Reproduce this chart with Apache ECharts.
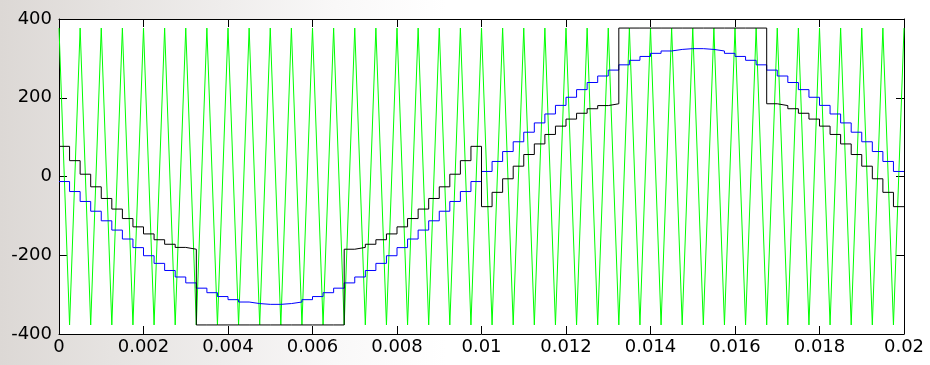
<!DOCTYPE html>
<html>
<head>
<meta charset="utf-8">
<script src="https://cdn.jsdelivr.net/npm/echarts@6/dist/echarts.min.js"></script>
<style>
  html, body { margin: 0; padding: 0; }
  body {
    width: 930px; height: 365px; overflow: hidden;
    background: linear-gradient(to right, #dcd8d5 0%, #e6e3e1 12%, #efedec 24%, #f9f8f8 36%, #ffffff 48%);
  }
  #chart { width: 930px; height: 365px; }
</style>
</head>
<body>
<div id="chart"></div>
<script>
// sampling interval of the staircase signals (s)
const STEP = 0.00025;

// blue staircase (sampled reference), one value per step
const blueSteps = [
  -12.8, -38.2, -63.4, -88.2, -112.5, -136.1, -158.8, -180.6, -201.2, -220.6,
  -238.7, -255.2, -270.2, -283.6, -295.1, -304.9, -312.8, -318.8, -322.7, -324.7,
  -324.7, -322.7, -318.8, -312.8, -304.9, -295.1, -283.6, -270.2, -255.2, -238.7,
  -220.6, -201.2, -180.6, -158.8, -136.1, -112.5, -88.2, -63.4, -38.2, -12.8,
  12.8, 38.2, 63.4, 88.2, 112.5, 136.1, 158.8, 180.6, 201.2, 220.6,
  238.7, 255.2, 270.2, 283.6, 295.1, 304.9, 312.8, 318.8, 322.7, 324.7,
  324.7, 322.7, 318.8, 312.8, 304.9, 295.1, 283.6, 270.2, 255.2, 238.7,
  220.6, 201.2, 180.6, 158.8, 136.1, 112.5, 88.2, 63.4, 38.2, 12.8
];

// black staircase (clamped modulating wave), one value per step
const blackSteps = [
  76.6, 40.2, 5.8, -26.2, -55.8, -82.7, -106.8, -127.9, -145.8, -160.6,
  -172.1, -180.1, -184.7,
  -377, -377, -377, -377, -377, -377, -377, -377, -377, -377, -377, -377, -377, -377,
  -184.7, -180.1, -172.1, -160.6, -145.8, -127.9, -106.8, -82.7, -55.8, -26.2,
  5.8, 40.2, 76.6,
  -76.6, -40.2, -5.8, 26.2, 55.8, 82.7, 106.8, 127.9, 145.8, 160.6,
  172.1, 180.1, 184.7,
  377, 377, 377, 377, 377, 377, 377, 377, 377, 377, 377, 377, 377, 377,
  184.7, 180.1, 172.1, 160.6, 145.8, 127.9, 106.8, 82.7, 55.8, 26.2,
  -5.8, -40.2, -76.6
];

// green triangular carrier: vertex values at each sampling instant
const carrierVertices = [
  377, -377, 377, -377, 377, -377, 377, -377, 377, -377,
  377, -377, 377, -377, 377, -377, 377, -377, 377, -377,
  377, -377, 377, -377, 377, -377, 377, -377, 377, -377,
  377, -377, 377, -377, 377, -377, 377, -377, 377, -377,
  377, -377, 377, -377, 377, -377, 377, -377, 377, -377,
  377, -377, 377, -377, 377, -377, 377, -377, 377, -377,
  377, -377, 377, -377, 377, -377, 377, -377, 377, -377,
  377, -377, 377, -377, 377, -377, 377, -377, 377, -377,
  377
];

const xTicks = ['0', '0.002', '0.004', '0.006', '0.008', '0.01', '0.012', '0.014', '0.016', '0.018', '0.02'];
const yTicks = ['-400', '-200', '0', '200', '400'];

function stepData(vals) {
  const d = vals.map((v, i) => [i * STEP, v]);
  d.push([vals.length * STEP, vals[vals.length - 1]]);
  return d;
}
function pointData(vals) {
  return vals.map((v, i) => [i * STEP, v]);
}

const labelFont = { fontFamily: 'DejaVu Sans', fontSize: 18, color: '#000' };
const boxLine = { show: true, onZero: false, lineStyle: { color: '#000', width: 1 } };
const boxTick = { show: true, inside: true, length: 8, lineStyle: { color: '#000', width: 1 } };

const chart = echarts.init(document.getElementById('chart'), null, { renderer: 'canvas' });
chart.setOption({
  animation: false,
  backgroundColor: 'transparent',
  grid: {
    left: 59, right: 26, top: 19, bottom: 31,
    show: true, backgroundColor: '#ffffff', borderWidth: 0,
    outerBoundsMode: 'none'
  },
  xAxis: [{
    type: 'value', min: 0, max: 0.02, interval: 0.002,
    axisLine: boxLine, axisTick: boxTick,
    splitLine: { show: false },
    axisLabel: Object.assign({ margin: 4, formatter: (v) => {
      const i = Math.round(v / 0.002); return xTicks[i] !== undefined ? xTicks[i] : '';
    } }, labelFont)
  }, {
    type: 'value', position: 'top', min: 0, max: 0.02, interval: 0.002,
    axisLine: boxLine, axisTick: boxTick,
    splitLine: { show: false },
    axisLabel: { show: false }
  }],
  yAxis: [{
    type: 'value', min: -400, max: 400, interval: 200,
    axisLine: boxLine, axisTick: boxTick,
    splitLine: { show: false },
    axisLabel: Object.assign({ margin: 7, formatter: (v) => {
      const i = Math.round((v + 400) / 200); return yTicks[i] !== undefined ? yTicks[i] : '';
    } }, labelFont)
  }, {
    type: 'value', position: 'right', min: -400, max: 400, interval: 200,
    axisLine: boxLine, axisTick: boxTick,
    splitLine: { show: false },
    axisLabel: { show: false }
  }],
  series: [{
    name: 'carrier', type: 'line', xAxisIndex: 0, yAxisIndex: 0,
    data: pointData(carrierVertices),
    showSymbol: false, symbol: 'none',
    lineStyle: { color: '#00ff00', width: 1 }
  }, {
    name: 'reference', type: 'line', xAxisIndex: 0, yAxisIndex: 0,
    data: stepData(blueSteps), step: 'end',
    showSymbol: false, symbol: 'none',
    lineStyle: { color: '#0000ff', width: 1 }
  }, {
    name: 'modulating', type: 'line', xAxisIndex: 0, yAxisIndex: 0,
    data: stepData(blackSteps), step: 'end',
    showSymbol: false, symbol: 'none',
    lineStyle: { color: '#000000', width: 1 }
  }]
});
</script>
</body>
</html>
